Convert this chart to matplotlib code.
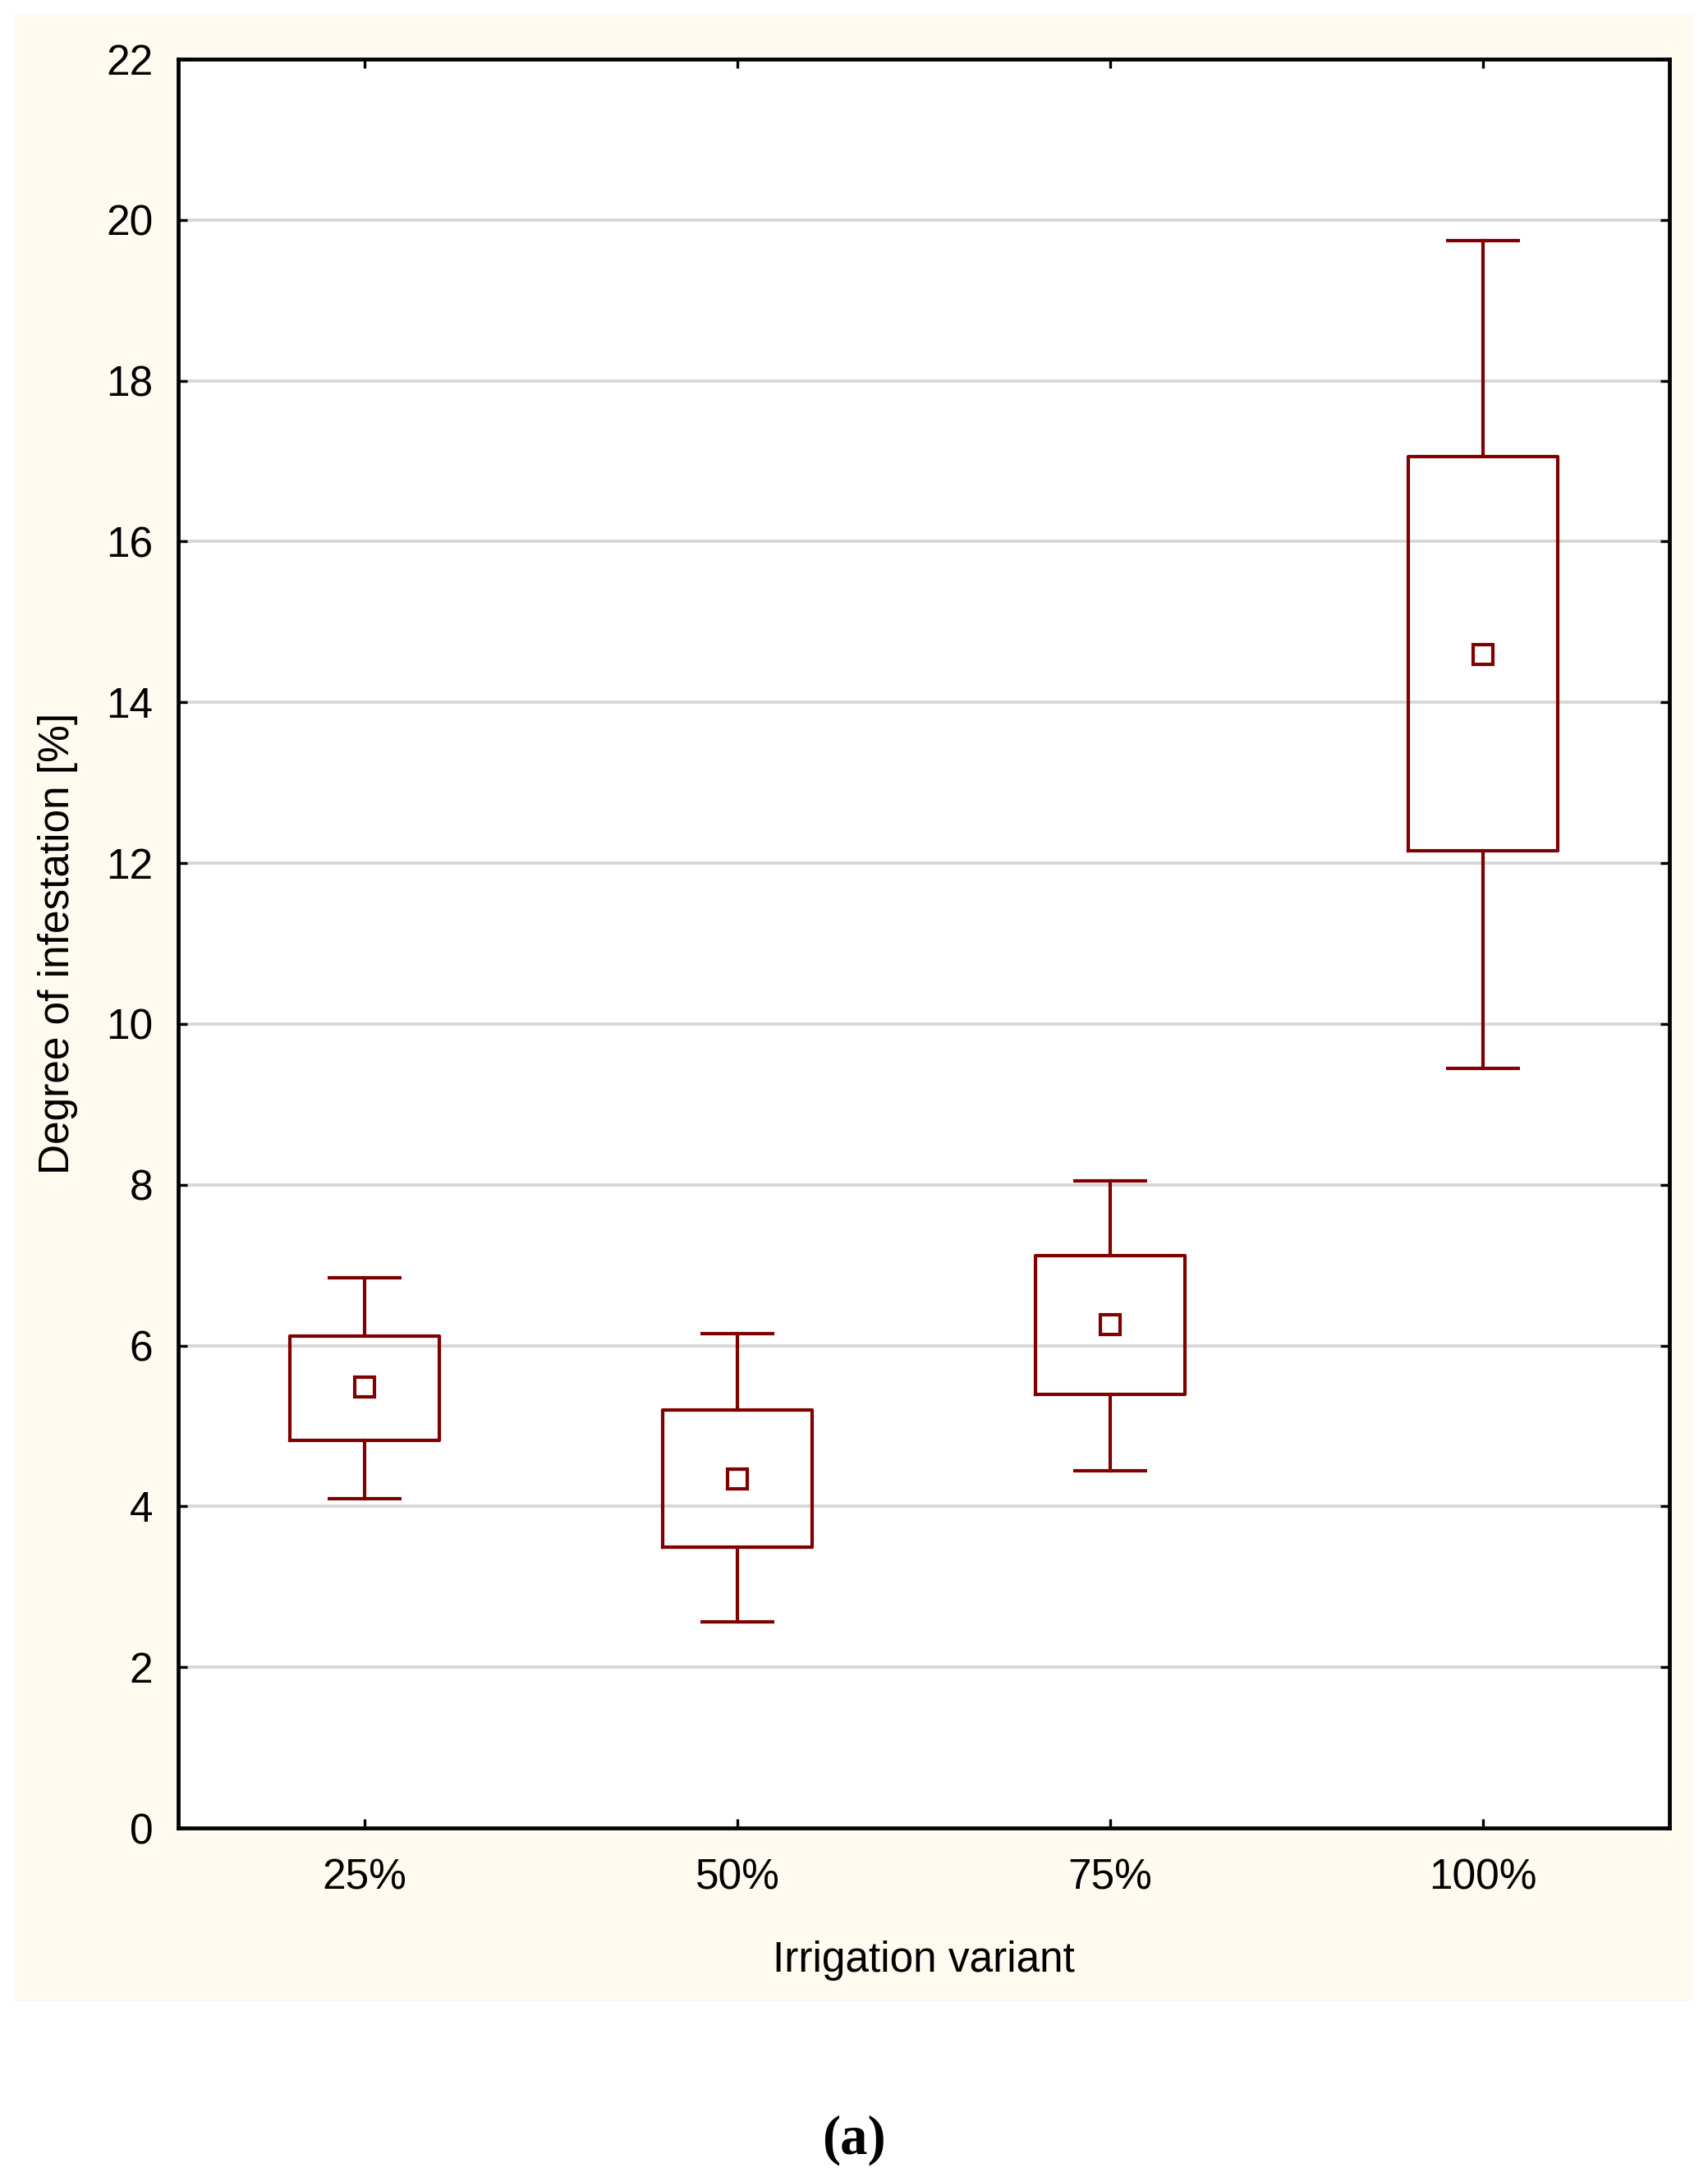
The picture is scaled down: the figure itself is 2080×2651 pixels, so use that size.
import matplotlib
matplotlib.use("Agg")
import matplotlib.pyplot as plt
from matplotlib.patches import Rectangle

# ---- data ----
categories = ["25%", "50%", "75%", "100%"]
means = [5.48, 4.34, 6.26, 14.60]
box_low = [4.82, 3.49, 5.39, 12.15]
box_high = [6.12, 5.20, 7.12, 17.06]
whisker_low = [4.10, 2.56, 4.44, 9.45]
whisker_high = [6.84, 6.15, 8.05, 19.74]
yticks = list(range(0, 23, 2))

RED = "#800000"
W, H = 2080, 2651
fig = plt.figure(figsize=(W / 100, H / 100), dpi=100)
fig.patch.set_facecolor("white")

plt.rcParams['font.family'] = ['Liberation Sans', 'DejaVu Sans']

# beige panel
fig.patches.append(Rectangle((17 / W, 1 - 2437 / H), (2062 - 17) / W, (2437 - 17) / H,
                             transform=fig.transFigure, facecolor="#FEFAEF",
                             edgecolor="none", zorder=-10))

left, right, top, bottom = 217, 2033, 72, 2226
ax = fig.add_axes([left / W, 1 - bottom / H, (right - left) / W, (bottom - top) / H])
ax.set_facecolor("white")
ax.set_zorder(1)

LW = 3.0
stats = []
for i, c in enumerate(categories):
    stats.append(dict(label=c, mean=means[i], med=means[i],
                      q1=box_low[i], q3=box_high[i],
                      whislo=whisker_low[i], whishi=whisker_high[i], fliers=[]))
positions = list(range(1, len(categories) + 1))
ax.bxp(stats, positions=positions, widths=0.40, capwidths=0.20,
       showmeans=True, showfliers=False,
       boxprops=dict(color=RED, linewidth=LW),
       whiskerprops=dict(color=RED, linewidth=LW),
       capprops=dict(color=RED, linewidth=LW, solid_capstyle="butt"),
       medianprops=dict(visible=False),
       meanprops=dict(marker="s", markersize=17, markerfacecolor="white",
                      markeredgecolor=RED, markeredgewidth=LW),
       zorder=3)

ax.set_xlim(0.5, 4.5)
ax.set_ylim(0, 22)
ax.set_yticks(yticks)
ax.set_xticks(positions)
ax.set_xticklabels(categories)
ax.yaxis.grid(True, color="#D7D7D7", linewidth=2.8, zorder=0)
ax.set_axisbelow(True)

for s in ax.spines.values():
    s.set_linewidth(3.4)
    s.set_color("black")
    s.set_zorder(5)

ax.tick_params(axis="both", which="both", direction="in", length=8, width=2.4,
               top=True, right=True, labelsize=37, colors="black")
ax.tick_params(axis="y", pad=22)
ax.tick_params(axis="x", pad=26)

ax.set_xlabel("Irrigation variant", fontsize=37, va="center")
ax.xaxis.set_label_coords(0.5, -(2388 - bottom) / (bottom - top))
ax.set_ylabel("Degree of infestation [%]", fontsize=37, va="center")
ax.yaxis.set_label_coords(-(217 - 71) / (right - left), 0.5)

fig.text(1040 / W, 1 - 2606 / H, "(a)", fontsize=48, fontweight="bold",
         family=["Liberation Serif", "DejaVu Serif"], ha="center", va="center")

fig.savefig("out.png", dpi=100, facecolor=fig.get_facecolor())
